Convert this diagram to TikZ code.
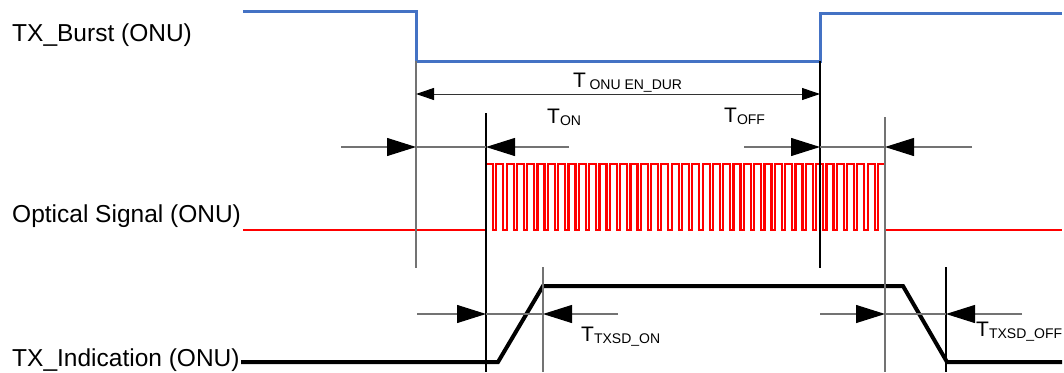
\documentclass[tikz,border=0pt]{standalone}
\usepackage{fontspec}
\setmainfont{Liberation Sans}
\usetikzlibrary{arrows.meta}
\usetikzlibrary{positioning}
\definecolor{burstblue}{HTML}{4472C4}
\newcommand{\tsub}[1]{{\fontsize{14}{14}\selectfont\raisebox{-2pt}{#1}}}

\begin{document}
\begin{tikzpicture}[x=1pt, y=-1pt,
    siglabel/.style={anchor=base west, inner sep=0pt, font=\fontsize{24.5}{28}\selectfont},
    tlabel/.style={anchor=base west, inner sep=0pt, font=\fontsize{21}{24}\selectfont},
    guide/.style={line width=1.1pt, black!55},
    guideblk/.style={line width=1.1pt, black},
    dimline/.style={line width=1.1pt, black!55},
    bigtip/.style={-{Triangle[length=29pt,width=18pt,color=black]}}]
    \useasboundingbox (0,0) rectangle (1064,372);

    % signal names
    \node[siglabel] (lburst) at (12,41) {TX\_Burst (ONU)};
    \node[siglabel] (lopt) at (12,222) {Optical Signal (ONU)};
    \node[siglabel] (lind) at (12,366) {TX\_Indication (ONU)};

    % waveforms
    \draw[burstblue, line width=3pt] (243,11) -- (416,11) -- (416,61) -- (820,61) -- (820,13) -- (1062,13);
    \draw[red, line width=2.2pt] (243,230) -- (486,230)
        \foreach \k in {1,...,39} { -- ++(0,-66) -- ++(7,0) -- ++(0,66) -- ++(3.316,0) } -- (1062,230);
    \draw[line width=4pt] (241,362) -- (498,362) -- (543,286) -- (903,286) -- (947,362) -- (1062,362);

    % edges
    \coordinate (burstoff) at (416,61);
    \coordinate (burston) at (820,61);
    \coordinate (opton) at (486,113);
    \coordinate (optoff) at (885,117);
    \coordinate (indon) at (543,267);
    \coordinate (indoff) at (946,267);
    \draw[guide] (burstoff) -- (416,268);
    \draw[guideblk] (burston) -- (820,268);
    \draw[guideblk] (opton) -- (486,372);
    \draw[guide] (optoff) -- (885,372);
    \draw[guide] (indon) -- (543,372);
    \draw[guideblk] (indoff) -- (946,372);

    % T ONU EN_DUR
    \coordinate (dur-a) at (416,94);
    \coordinate (dur-b) at (820,94);
    \draw[line width=1pt, black!80, {Triangle[length=18pt,width=12pt,color=black]}-{Triangle[length=18pt,width=12pt,color=black]}] (dur-a) -- (dur-b);
    \node[tlabel] (tdur) at (573,87) {T\,\tsub{ONU EN\_DUR}};

    % T ON
    \coordinate (on-a) at (416,147);
    \coordinate (on-b) at (486,147);
    \draw[dimline, bigtip] (341,147) -- (on-a);
    \draw[dimline] (on-a) -- (on-b);
    \draw[dimline, bigtip] (569,147) -- (on-b);
    \node[tlabel] (ton) at (547,123) {T\tsub{ON}};

    % T OFF
    \coordinate (off-a) at (820,147);
    \coordinate (off-b) at (885,147);
    \draw[dimline, bigtip] (744,147) -- (off-a);
    \draw[dimline] (off-a) -- (off-b);
    \draw[dimline, bigtip] (972,147) -- (off-b);
    \node[tlabel] (toff) at (724,122) {T\tsub{OFF}};

    % T TXSD_ON
    \coordinate (sdon-a) at (486,314);
    \coordinate (sdon-b) at (543,314);
    \draw[dimline, bigtip] (417,314) -- (sdon-a);
    \draw[dimline] (sdon-a) -- (sdon-b);
    \draw[dimline, bigtip] (618,314) -- (sdon-b);
    \node[tlabel] (tsdon) at (581,341) {T\tsub{TXSD\_ON}};

    % T TXSD_OFF
    \coordinate (sdoff-a) at (885,314);
    \coordinate (sdoff-b) at (946,314);
    \draw[dimline, bigtip] (820,314) -- (sdoff-a);
    \draw[dimline] (sdoff-a) -- (sdoff-b);
    \draw[dimline, bigtip] (1022,314) -- (sdoff-b);
    \node[tlabel] (tsdoff) at (976,336) {T\tsub{TXSD\_OFF}};
\end{tikzpicture}
\end{document}
